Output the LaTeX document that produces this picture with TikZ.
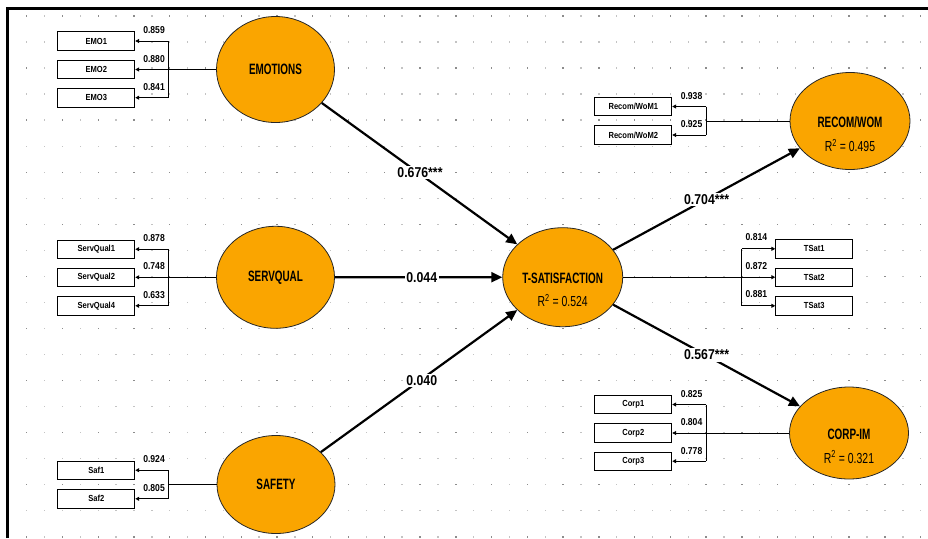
\documentclass[tikz,border=0pt]{standalone}
\usepackage{fontspec}
\setmainfont{Liberation Sans}[FakeStretch=0.86]
\newfontfamily\latfont{Liberation Sans}[FakeStretch=0.72]
\newfontfamily\titlefont{Liberation Sans}[FakeStretch=0.66]
\usetikzlibrary{shapes.geometric,arrows.meta}
\definecolor{latorange}{RGB}{250,165,0}
\definecolor{dotdark}{RGB}{140,140,140}
\definecolor{dotlight}{RGB}{195,195,195}
\tikzset{
  lat/.style={ellipse, draw=black!85, line width=0.8pt, fill=latorange, inner sep=0pt},
  lattitle/.style={inner sep=0pt, font=\titlefont\bfseries\fontsize{15}{17}\selectfont},
  rsq/.style={inner sep=0pt, font=\latfont\fontsize{14.5}{16}\selectfont},
  ind/.style={rectangle, draw=black, line width=0.8pt, fill=white, minimum width=77pt, minimum height=18.5pt, inner sep=0pt, font=\bfseries\fontsize{8.8}{10}\selectfont},
  loadlbl/.style={inner sep=0pt, font=\bfseries\fontsize{10}{11}\selectfont},
  pathlbl/.style={fill=white, inner sep=1.8pt, font=\bfseries\fontsize{14.3}{16}\selectfont},
  sarrow/.style={line width=2.2pt, -{Triangle[length=11pt,width=10pt]}},
  larrow/.style={line width=0.9pt, -{Triangle[length=4pt,width=4pt]}},
  lline/.style={line width=0.9pt},
}
\begin{document}
\begin{tikzpicture}[x=1pt,y=-1pt]
\useasboundingbox (0,0) rectangle (928,538);
% dotted grid
\foreach \j in {0,...,20}{
  \foreach \k in {0,...,50}{
    \pgfmathtruncatemacro{\dpar}{mod(\j,2)+mod(\k,2)}
    \ifnum\dpar=0 \def\dcol{dotdark}\else\def\dcol{dotlight}\fi
    \fill[\dcol] ({26.7+17.88*\k-0.7},{16+26.04*\j-0.7}) rectangle ++(1.4,1.4);
  }
}
% frame
\draw[line width=2.6pt] (7.2,538) -- (7.2,8.7) -- (928,8.7);

% latent variables
\node[lat, minimum width=118pt, minimum height=106pt] (emo) at (275.5,69.5) {};
\node[lattitle] (emot) at (emo.center) {EMOTIONS};
\node[lat, minimum width=118pt, minimum height=102pt] (serv) at (275.5,277.3) {};
\node[lattitle] (servt) at (serv.center) {SERVQUAL};
\node[lat, minimum width=118pt, minimum height=98pt] (saf) at (276,484.5) {};
\node[lattitle] (saft) at (saf.center) {SAFETY};
\node[lat, minimum width=120pt, minimum height=99pt] (tsat) at (562.7,277.2) {};
\node[lattitle] (tsatt) at (562.7,278.5) {T-SATISFACTION};
\node[rsq] (tsatr) at (562.7,300.5) {R\textsuperscript{2} = 0.524};
\node[lat, minimum width=120pt, minimum height=97pt] (rec) at (850,121) {};
\node[lattitle] (rect) at (850,122.5) {RECOM/WOM};
\node[rsq] (recr) at (850,145.5) {R\textsuperscript{2} = 0.495};
\node[lat, minimum width=119pt, minimum height=92pt] (corp) at (849,433) {};
\node[lattitle] (corpt) at (849,434) {CORP-IM};
\node[rsq] (corpr) at (849,457) {R\textsuperscript{2} = 0.321};

% indicators
\node[ind] (emo1) at (96.3,41) {EMO1};
\node[ind] (emo2) at (96.3,69.5) {EMO2};
\node[ind] (emo3) at (96.3,97.7) {EMO3};
\node[ind] (sq1) at (96.3,249.2) {ServQual1};
\node[ind] (sq2) at (96.3,277.3) {ServQual2};
\node[ind] (sq4) at (96.3,305.8) {ServQual4};
\node[ind] (saf1) at (96.3,470.2) {Saf1};
\node[ind] (saf2) at (96.3,498.8) {Saf2};
\node[ind] (rw1) at (633.3,106.5) {Recom/WoM1};
\node[ind] (rw2) at (633.3,135) {Recom/WoM2};
\node[ind] (ts1) at (814.2,248.8) {TSat1};
\node[ind] (ts2) at (814.2,277.2) {TSat2};
\node[ind] (ts3) at (814.2,305.8) {TSat3};
\node[ind] (cp1) at (633.3,404.5) {Corp1};
\node[ind] (cp2) at (633.3,433) {Corp2};
\node[ind] (cp3) at (633.3,461.2) {Corp3};

% bus coordinates
\coordinate (emobus) at (168.3,69.5);
\coordinate (sqbus) at (168.3,277.3);
\coordinate (safbus) at (168.3,484.5);
\coordinate (recbus) at (706,121);
\coordinate (tsbus) at (741.7,277.2);
\coordinate (cpbus) at (706,433);

% EMOTIONS measurement
\draw[lline] (emo.west) -- (emobus);
\draw[lline] (emobus |- emo1.east) -- (emobus |- emo3.east);
\draw[larrow] (emobus |- emo1.east) -- (emo1.east);
\draw[larrow] (emobus) -- (emo2.east);
\draw[larrow] (emobus |- emo3.east) -- (emo3.east);
% SERVQUAL measurement
\draw[lline] (serv.west) -- (sqbus);
\draw[lline] (sqbus |- sq1.east) -- (sqbus |- sq4.east);
\draw[larrow] (sqbus |- sq1.east) -- (sq1.east);
\draw[larrow] (sqbus) -- (sq2.east);
\draw[larrow] (sqbus |- sq4.east) -- (sq4.east);
% SAFETY measurement
\draw[lline] (saf.west) -- (safbus);
\draw[lline] (safbus |- saf1.east) -- (safbus |- saf2.east);
\draw[larrow] (safbus |- saf1.east) -- (saf1.east);
\draw[larrow] (safbus |- saf2.east) -- (saf2.east);
% RECOM measurement
\draw[lline] (rec.west) -- (recbus);
\draw[lline] (recbus |- rw1.east) -- (recbus |- rw2.east);
\draw[larrow] (recbus |- rw1.east) -- (rw1.east);
\draw[larrow] (recbus |- rw2.east) -- (rw2.east);
% TSAT measurement
\draw[larrow] (tsat.east) -- (ts2.west);
\draw[lline] (tsbus |- ts1.west) -- (tsbus |- ts3.west);
\draw[larrow] (tsbus |- ts1.west) -- (ts1.west);
\draw[larrow] (tsbus |- ts3.west) -- (ts3.west);
% CORP measurement
\draw[lline] (corp.west) -- (cpbus);
\draw[lline] (cpbus |- cp1.east) -- (cpbus |- cp3.east);
\draw[larrow] (cpbus |- cp1.east) -- (cp1.east);
\draw[larrow] (cpbus) -- (cp2.east);
\draw[larrow] (cpbus |- cp3.east) -- (cp3.east);

% loadings
\node[loadlbl, anchor=base east] (l1) at (165,33.5) {0.859};
\node[loadlbl, anchor=base east] (l2) at (165,62) {0.880};
\node[loadlbl, anchor=base east] (l3) at (165,90.2) {0.841};
\node[loadlbl, anchor=base east] (l4) at (165,241.7) {0.878};
\node[loadlbl, anchor=base east] (l5) at (165,269.8) {0.748};
\node[loadlbl, anchor=base east] (l6) at (165,298.3) {0.633};
\node[loadlbl, anchor=base east] (l7) at (165,462.7) {0.924};
\node[loadlbl, anchor=base east] (l8) at (165,491.3) {0.805};
\node[loadlbl, anchor=base east] (l9) at (702.5,99.3) {0.938};
\node[loadlbl, anchor=base east] (l10) at (702.5,127.8) {0.925};
\node[loadlbl, anchor=base west] (l11) at (745.5,240.8) {0.814};
\node[loadlbl, anchor=base west] (l12) at (745.5,269.2) {0.872};
\node[loadlbl, anchor=base west] (l13) at (745.5,297.8) {0.881};
\node[loadlbl, anchor=base east] (l14) at (702.5,397.3) {0.825};
\node[loadlbl, anchor=base east] (l15) at (702.5,425.8) {0.804};
\node[loadlbl, anchor=base east] (l16) at (702.5,454.2) {0.778};

% structural paths
\draw[sarrow] (emo) -- (tsat);
\draw[sarrow] (serv) -- (tsat);
\draw[sarrow] (saf) -- (tsat);
\draw[sarrow] (tsat) -- (rec);
\draw[sarrow] (tsat) -- (corp);

\node[pathlbl] (p1) at (420,172.5) {0.676***};
\node[pathlbl] (p2) at (421.7,277.3) {0.044};
\node[pathlbl] (p3) at (421.7,380.5) {0.040};
\node[pathlbl] (p4) at (706.7,199.5) {0.704***};
\node[pathlbl] (p5) at (706.7,355) {0.567***};
\end{tikzpicture}
\end{document}
